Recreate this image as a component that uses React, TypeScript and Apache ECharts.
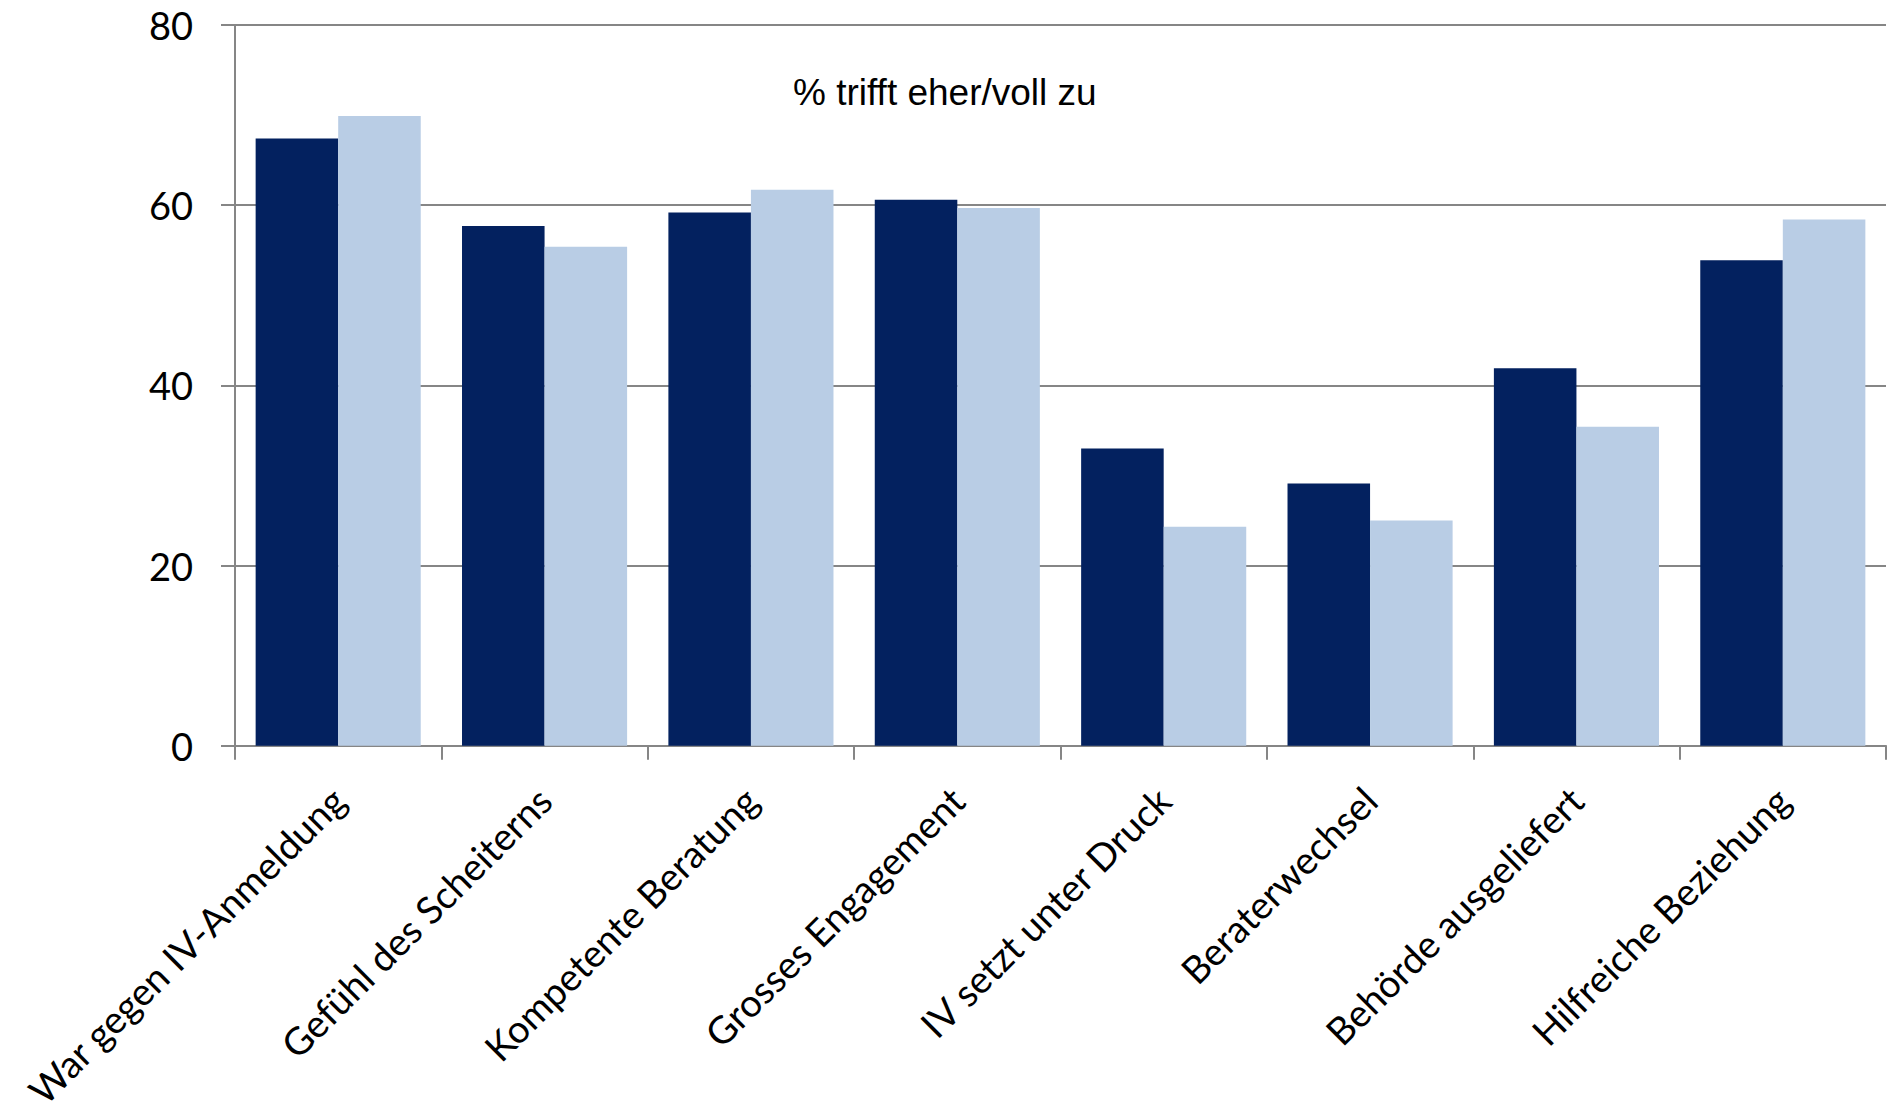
import React, { useEffect, useRef } from "react";
import * as echarts from "echarts";

const categories = [
  "War gegen IV-Anmeldung",
  "Gefühl des Scheiterns",
  "Kompetente Beratung",
  "Grosses Engagement",
  "IV setzt unter Druck",
  "Beraterwechsel",
  "Behörde ausgeliefert",
  "Hilfreiche Beziehung",
];
const seriesDark = [67.4, 57.7, 59.2, 60.6, 33.0, 29.1, 41.9, 53.9];
const seriesLight = [69.9, 55.4, 61.7, 59.7, 24.3, 25.0, 35.4, 58.4];
const yTicks = [0, 20, 40, 60, 80];
const titleText = "% trifft eher/voll zu";

export default function App() {
  const ref = useRef<HTMLDivElement>(null);
  useEffect(() => {
    if (!ref.current) return;
    const chart = echarts.init(ref.current, null, { renderer: "svg" });
    const gray = "#868686";
    chart.setOption({
      animation: false,
      backgroundColor: "#ffffff",
      title: {
        text: titleText,
        left: 793,
        top: 74,
        padding: 0,
        textStyle: {
          fontFamily: "Liberation Sans",
          fontSize: 37,
          fontWeight: "normal",
          color: "#000000",
        },
      },
      grid: { left: 235, right: 4, top: 25, bottom: 367, containLabel: false },
      xAxis: {
        type: "category",
        data: categories,
        axisLine: { show: true, lineStyle: { color: gray, width: 2 } },
        axisTick: {
          show: true,
          interval: 0,
          length: 14,
          lineStyle: { color: gray, width: 2 },
        },
        axisLabel: {
          interval: 0,
          rotate: 45,
          margin: 48,
          fontFamily: "Lato",
          fontSize: 38,
          color: "#000000",
        },
      },
      yAxis: {
        type: "value",
        min: yTicks[0],
        max: yTicks[yTicks.length - 1],
        interval: 20,
        axisLine: { show: true, lineStyle: { color: gray, width: 2 } },
        axisTick: { show: true, length: 14, lineStyle: { color: gray, width: 2 } },
        splitLine: { show: true, lineStyle: { color: gray, width: 2 } },
        axisLabel: {
          margin: 42,
          fontFamily: "Lato",
          fontSize: 38,
          color: "#000000",
        },
      },
      series: [
        {
          type: "bar",
          name: "A",
          data: seriesDark,
          barGap: "0%",
          barCategoryGap: "20%",
          itemStyle: { color: "#03215F" },
        },
        {
          type: "bar",
          name: "B",
          data: seriesLight,
          barGap: "0%",
          barCategoryGap: "20%",
          itemStyle: { color: "#B9CDE5" },
        },
      ],
    });
    return () => chart.dispose();
  }, []);
  return (
    <div
      ref={ref}
      style={{ position: "fixed", left: 0, top: 0, width: 1890, height: 1113 }}
    />
  );
}
